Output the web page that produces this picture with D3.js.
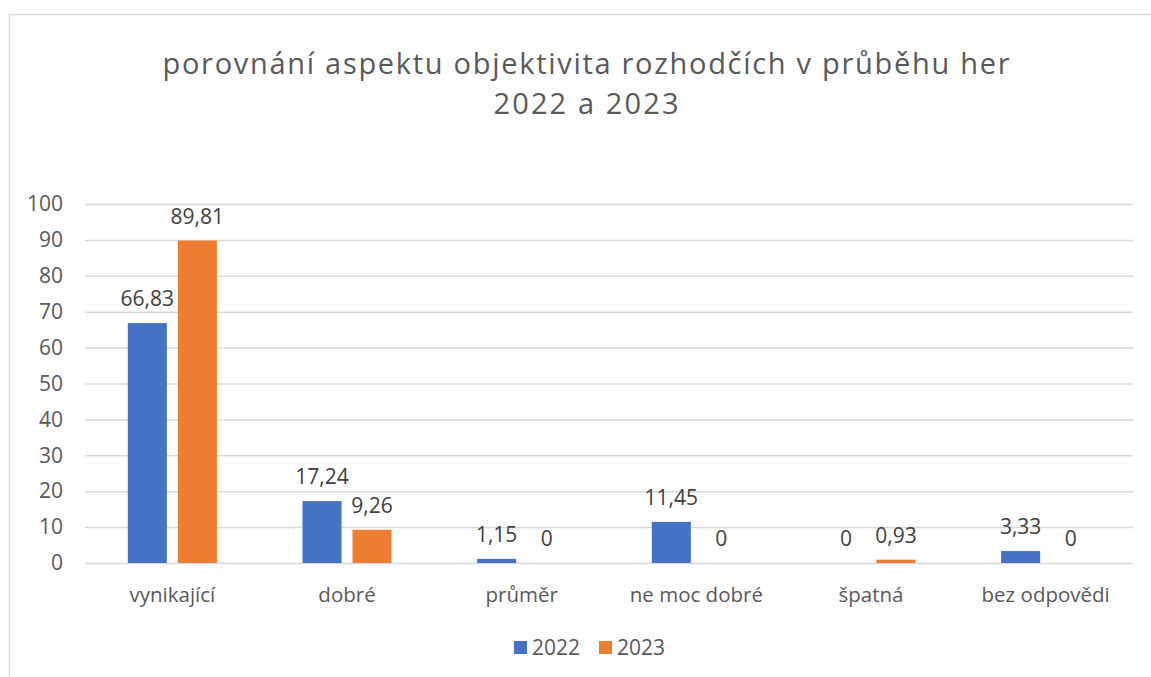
<!DOCTYPE html>
<html><head><meta charset="utf-8">
<script src="https://cdn.jsdelivr.net/npm/d3@7"></script>
<style>body{margin:0;background:#fff}svg{display:block}text{font-family:"Open Sans",sans-serif}</style>
</head><body><svg id="c" width="1151" height="677"></svg>
<script>
const titleLines = ["porovnání aspektu objektivita rozhodčích v průběhu her", "2022 a 2023"];
const categories = ["vynikající", "dobré", "průměr", "ne moc dobré", "špatná", "bez odpovědi"];
const seriesNames = ["2022", "2023"];
const values2022 = [66.83, 17.24, 1.15, 11.45, 0, 3.33];
const values2023 = [89.81, 9.26, 0, 0, 0.93, 0];
const yTicks = [0, 10, 20, 30, 40, 50, 60, 70, 80, 90, 100];
const colors = ["#4472c4", "#ed7d31"];

const svg = d3.select("#c");
svg.append("rect").attr("x", 9.5).attr("y", 14.5).attr("width", 1160).attr("height", 700)
  .attr("fill", "#fff").attr("stroke", "#d9d9d9").attr("stroke-width", 1.5);

const titleWidths = [847, 185];
titleLines.forEach((t, i) => svg.append("text")
  .attr("fill", "#595959").attr("font-size", 29).attr("text-anchor", "middle")
  .attr("x", 586).attr("y", 74 + i * 39.5)
  .attr("textLength", titleWidths[i]).attr("lengthAdjust", "spacing")
  .text(t));

const x = d3.scaleBand().domain(categories).range([85, 1133]).paddingInner(0.49).paddingOuter(0.245);
const y = d3.scaleLinear().domain([0, 100]).range([563, 204]);
const xs = d3.scaleBand().domain(seriesNames).range([0, x.bandwidth()]).paddingInner(0.22);

const gy = svg.append("g").attr("transform", "translate(85,0)")
  .call(d3.axisLeft(y).tickValues(yTicks).tickSize(-1048).tickPadding(22).tickFormat(d3.format("d")));
gy.select(".domain").remove();
gy.selectAll(".tick line").attr("stroke", "#d9d9d9").attr("stroke-width", 1.5);
gy.selectAll(".tick text").attr("fill", "#595959").attr("font-size", 21).attr("font-family", "Open Sans");

const gx = svg.append("g").attr("transform", "translate(0,563)")
  .call(d3.axisBottom(x).tickSize(0).tickPadding(24));
gx.select(".domain").remove();
gx.selectAll(".tick text").attr("fill", "#595959").attr("font-size", 20.5).attr("font-family", "Open Sans");

const series = [values2022, values2023];
const fmt = v => v === 0 ? "0" : d3.format(".2f")(v).replace(".", ",");
series.forEach((vals, si) => {
  const g = svg.append("g");
  g.selectAll("rect").data(vals).join("rect")
    .attr("x", (d, i) => x(categories[i]) + xs(seriesNames[si]))
    .attr("width", xs.bandwidth())
    .attr("y", d => y(d))
    .attr("height", d => y(0) - y(d))
    .attr("fill", colors[si]);
  g.selectAll("text").data(vals).join("text")
    .attr("x", (d, i) => x(categories[i]) + xs(seriesNames[si]) + xs.bandwidth() / 2)
    .attr("y", d => y(d) - 17)
    .attr("text-anchor", "middle").attr("fill", "#404040").attr("font-size", 21)
    .text(d => fmt(d));
});

const lg = svg.append("g");
const lx = [514, 599];
seriesNames.forEach((s, i) => {
  lg.append("rect").attr("x", lx[i]).attr("y", 641).attr("width", 13).attr("height", 13).attr("fill", colors[i]);
  lg.append("text").attr("x", lx[i] + 18).attr("y", 655).attr("fill", "#595959").attr("font-size", 21).text(s);
});
</script></body></html>
